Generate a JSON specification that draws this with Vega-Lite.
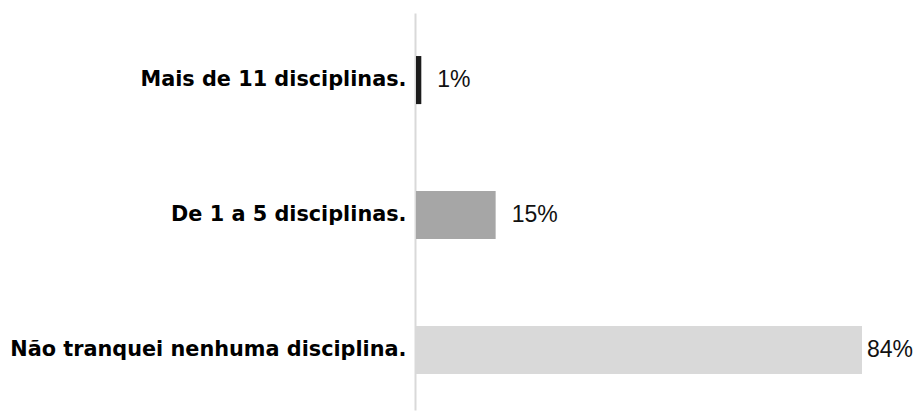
{
  "$schema": "https://vega.github.io/schema/vega-lite/v6.json",
  "autosize": {"type": "none"},
  "padding": {"left": 416, "top": 13, "right": 54, "bottom": 2},
  "width": 446,
  "height": 397,
  "background": "white",
  "config": {"view": {"stroke": null}, "font": "DejaVu Sans"},
  "data": {
    "values": [
      {"categoria": "Mais de 11 disciplinas.", "pct": 0.01},
      {"categoria": "De 1 a 5 disciplinas.", "pct": 0.15},
      {"categoria": "Não tranquei nenhuma disciplina.", "pct": 0.84}
    ]
  },
  "encoding": {
    "y": {
      "field": "categoria",
      "type": "nominal",
      "sort": null,
      "scale": {"paddingInner": 0.644, "paddingOuter": 0.2925, "align": 0.545},
      "axis": {
        "title": null,
        "ticks": false,
        "grid": false,
        "domainColor": "#d9d9d9",
        "domainWidth": 2,
        "offset": 1,
        "labelFont": "DejaVu Sans",
        "labelFontWeight": "bold",
        "labelFontSize": 20.8,
        "labelColor": "#000000",
        "labelPadding": 9,
        "labelLimit": 0
      }
    },
    "x": {
      "field": "pct",
      "type": "quantitative",
      "scale": {"domain": [0, 0.84], "nice": false},
      "axis": null
    }
  },
  "layer": [
    {
      "mark": {"type": "bar"},
      "encoding": {
        "color": {
          "field": "categoria",
          "type": "nominal",
          "scale": {
            "domain": ["Mais de 11 disciplinas.", "De 1 a 5 disciplinas.", "Não tranquei nenhuma disciplina."],
            "range": ["#1c1c1c", "#a6a6a6", "#d9d9d9"]
          },
          "legend": null
        }
      }
    },
    {
      "transform": [{"filter": "datum.pct < 0.5"}],
      "mark": {"type": "text", "align": "left", "baseline": "middle", "dx": 16, "fontSize": 23, "font": "Liberation Sans", "color": "#111111"},
      "encoding": {"text": {"field": "pct", "type": "quantitative", "format": ".0%"}}
    },
    {
      "transform": [{"filter": "datum.pct >= 0.5"}],
      "mark": {"type": "text", "align": "left", "baseline": "middle", "dx": 5, "fontSize": 23, "font": "Liberation Sans", "color": "#111111"},
      "encoding": {"text": {"field": "pct", "type": "quantitative", "format": ".0%"}}
    }
  ]
}
